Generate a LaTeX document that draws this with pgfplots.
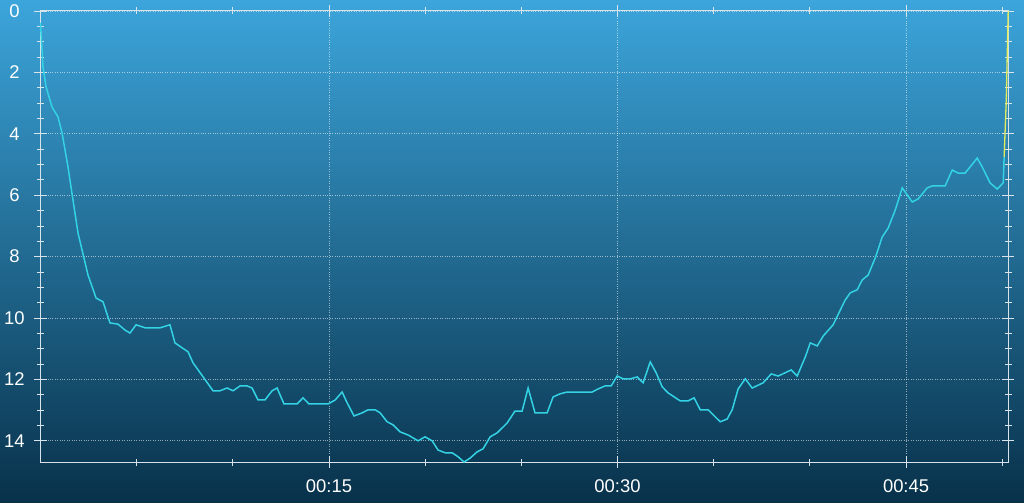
\documentclass[border=0pt]{standalone}
\usepackage{pgfplots}
\pgfplotsset{compat=1.18}
\usepackage{fontspec}
\setmainfont{Liberation Sans}
\definecolor{bgtop}{HTML}{3CA5DB}
\definecolor{bgbot}{HTML}{08314A}
\definecolor{linecyan}{HTML}{33D2E4}
\definecolor{lineyel}{HTML}{E2EC5C}
\definecolor{axcol}{HTML}{D8E4EA}
\begin{document}
\begin{tikzpicture}
\shade[top color=bgtop, bottom color=bgbot] (0,0) rectangle (1024bp,503bp);
\path[use as bounding box] (0,0) rectangle (1024bp,503bp);
\begin{axis}[
  at={(40.5bp,41bp)}, anchor=south west,
  scale only axis, width=967.5bp, height=451bp,
  xmin=0, xmax=50.3, ymin=0, ymax=14.69,
  y dir=reverse,
  xtick={15,30,45}, xticklabels={00:15,00:30,00:45},
  minor xtick={5,10,20,25,35,40,50},
  ytick={0,2,4,6,8,10,12,14},
  minor y tick num=3,
  tick align=center,
  major tick length=12bp, minor tick length=7bp,
  every tick/.style={axcol, line width=0.8bp},
  axis line style={axcol, line width=1bp},
  grid=major,
  major grid style={dotted, white, opacity=0.55, line width=0.7bp},
  tick label style={white, font=\fontsize{18.5}{20}\selectfont},
  /pgf/number format/assume math mode=true,
  yticklabel style={anchor=center, xshift=-20bp},
  xticklabel style={anchor=north, yshift=-8bp},
  clip=false,
]
\addplot[linecyan, line width=1.5bp] coordinates {
(0.00,0.39) (0.03,0.72) (0.13,1.82) (0.29,2.47) (0.60,3.13) (0.91,3.45)
(1.12,3.97) (1.43,5.08) (1.53,5.50) (1.95,7.23) (2.47,8.60) (2.89,9.35)
(3.25,9.47) (3.61,10.16) (4.03,10.20) (4.39,10.39) (4.65,10.49) (4.97,10.22)
(5.44,10.32) (6.21,10.32) (6.73,10.22) (6.99,10.81) (7.36,10.97) (7.67,11.10)
(7.93,11.46) (8.97,12.37) (9.33,12.37) (9.70,12.28) (10.01,12.37) (10.38,12.21)
(10.74,12.21) (11.00,12.28) (11.31,12.67) (11.67,12.67) (12.04,12.37) (12.30,12.28)
(12.66,12.80) (13.34,12.80) (13.65,12.60) (13.96,12.80) (14.95,12.80) (15.32,12.67)
(15.68,12.41) (15.94,12.76) (16.30,13.19) (16.72,13.09) (17.03,12.99) (17.40,12.99)
(17.66,13.09) (18.02,13.38) (18.33,13.48) (18.70,13.71) (19.11,13.81) (19.63,14.00)
(19.99,13.87) (20.36,14.00) (20.67,14.30) (21.04,14.39) (21.40,14.39) (21.71,14.52)
(22.02,14.69) (22.34,14.56) (22.70,14.36) (23.01,14.26) (23.38,13.87) (23.74,13.74)
(24.26,13.42) (24.67,13.03) (25.04,13.03) (25.35,12.28) (25.71,13.09) (26.34,13.09)
(26.65,12.57) (27.01,12.47) (27.38,12.41) (28.68,12.41) (28.99,12.31) (29.36,12.21)
(29.67,12.21) (29.98,11.89) (30.29,11.98) (30.66,11.98) (31.02,11.92) (31.33,12.11)
(31.70,11.43) (32.01,11.79) (32.32,12.24) (32.63,12.44) (33.26,12.70) (33.67,12.70)
(33.98,12.60) (34.30,12.99) (34.71,12.99) (35.34,13.38) (35.70,13.29) (35.96,12.99)
(36.27,12.31) (36.64,11.98) (37.00,12.28) (37.57,12.11) (37.99,11.82) (38.35,11.89)
(39.03,11.69) (39.34,11.89) (39.76,11.27) (40.02,10.81) (40.38,10.91) (40.70,10.58)
(41.21,10.22) (41.58,9.74) (41.84,9.41) (42.10,9.18) (42.46,9.08) (42.72,8.76)
(43.03,8.60) (43.40,8.04) (43.76,7.36) (44.07,7.07) (44.44,6.48) (44.80,5.76)
(45.32,6.22) (45.63,6.12) (46.10,5.76) (46.36,5.70) (47.03,5.70) (47.40,5.18)
(47.71,5.28) (48.07,5.28) (48.70,4.79) (48.96,5.08) (49.37,5.60) (49.74,5.80)
(50.05,5.60) (50.10,4.75)
};
\addplot[lineyel, line width=1.3bp] coordinates {
(50.10,4.75) (50.21,2.90) (50.31,0.00)
};
\end{axis}
\end{tikzpicture}
\end{document}
